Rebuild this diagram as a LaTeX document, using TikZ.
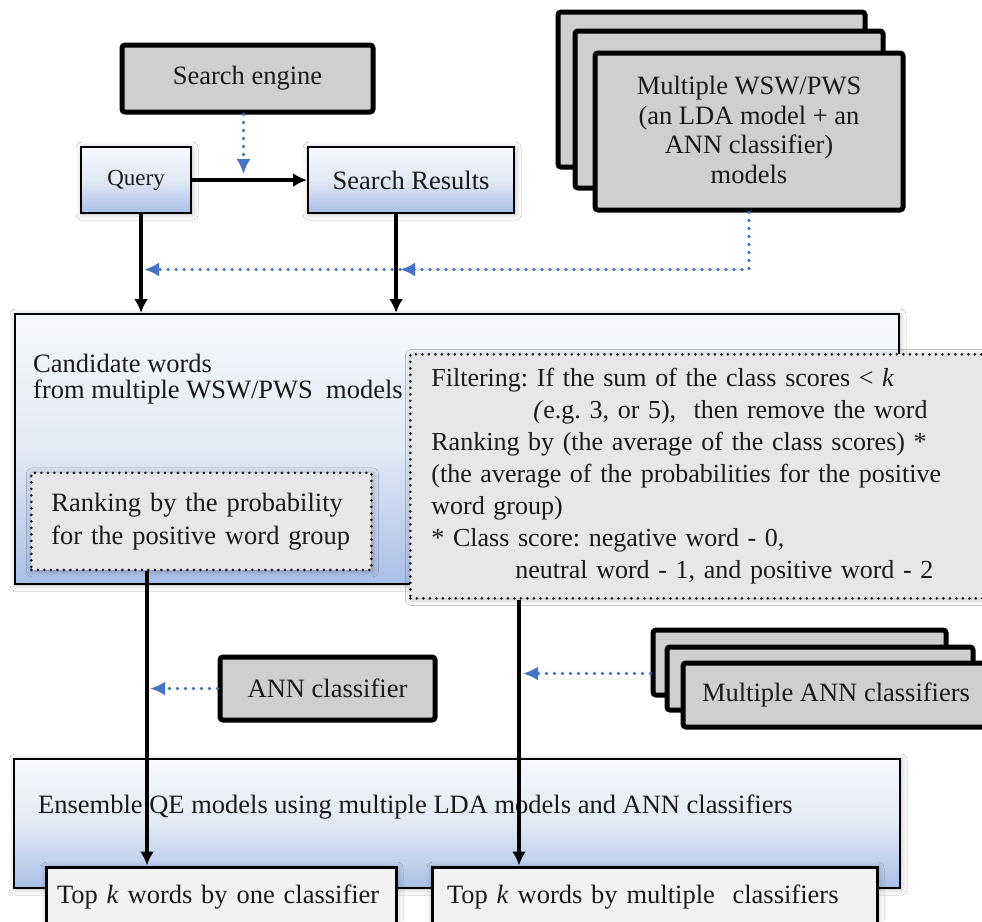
\documentclass[tikz,border=0pt]{standalone}
\usepackage{fontspec}
\setmainfont{Liberation Serif}
\usetikzlibrary{arrows.meta,shadows.blur,calc}

\definecolor{boxgray}{HTML}{D0CECE}
\definecolor{dotgray}{HTML}{E7E7E7}
\definecolor{topkgray}{HTML}{F2F2F2}
\definecolor{linkblue}{HTML}{4472C4}
\definecolor{gradtop}{HTML}{F6F8FC}
\definecolor{gradmid}{HTML}{E2E9F5}
\definecolor{gradbot}{HTML}{A9BFE7}
\definecolor{inktext}{HTML}{1A1A1A}

\begin{document}
\frenchspacing
\begin{tikzpicture}[x=1pt,y=-1pt,
  txt/.style={font=\fontsize{26.5}{30}\selectfont, text=inktext},
  softshadow/.style={blur shadow={shadow xshift=1pt, shadow yshift=-1pt,
      shadow blur radius=6pt, shadow opacity=30}},
  heavybox/.style={txt, draw=black, line width=5pt, fill=boxgray,
      rounded corners=3pt, inner sep=0pt, align=center, anchor=north west},
  gradbox/.style={draw=black, line width=2.2pt, top color=gradtop,
      bottom color=gradbot, middle color=gradmid, softshadow,
      inner sep=0pt, anchor=north west},
  dotbox/.style={draw=black, line width=2.8pt, dash pattern=on 0pt off 6.5pt,
      line cap=round, fill=dotgray, softshadow, anchor=north west},
  topkbox/.style={txt, draw=black, line width=3pt, fill=topkgray, softshadow,
      anchor=north west, align=left},
  flow/.style={line width=3.5pt, -{Latex[length=14pt,width=14pt]}},
  feed/.style={draw=linkblue, line width=3.6pt, dash pattern=on 0pt off 8pt,
      line cap=round, -{Latex[length=15pt,width=14pt]}},
]
\useasboundingbox (0,0) rectangle (982,921);
\fill[white] (0,0) rectangle (982,921);
\clip (0,0) rectangle (982,921);

% --- search stage ---
\node[heavybox, minimum width=251, minimum height=67] (engine) at (119.5,42.5) {Search engine};
\node[gradbox, minimum width=110, minimum height=66,
      font=\fontsize{23}{26}\selectfont, text=inktext] (query) at (80,146) {Query};
\node[gradbox, minimum width=206, minimum height=66, txt] (results) at (307,146) {Search Results};

% --- stacked WSW/PWS models ---
\node[heavybox, minimum width=307, minimum height=155] (wswback) at (555.5,9.5) {};
\node[heavybox, minimum width=308, minimum height=157] (wswmid) at (572.5,28.5) {};
\node[heavybox, minimum width=308, minimum height=157,
      font=\fontsize{26.5}{29.5}\selectfont] (wsw) at (592.5,50.5)
      {\raisebox{3pt}{\parbox[b]{300pt}{\centering Multiple WSW/PWS\\(an LDA model + an\\ANN classifier)\\models}}};

% --- candidate words ---
\node[gradbox, minimum width=884, minimum height=270] (cand) at (14,313) {};
\node[txt, anchor=west, align=left, inner sep=0pt,
      font=\fontsize{26.5}{26}\selectfont] (candtext) at (33,379)
      {Candidate words\\from multiple WSW/PWS\ \ models};
\node[dotbox, minimum width=340, minimum height=97, inner xsep=20pt,
      text width=300pt, align=left, txt, font=\fontsize{26.5}{33}\selectfont] (rank) at (30,471.5)
      {Ranking by the probability\\for the positive word group};
\node[dotbox, minimum width=586, minimum height=244, inner xsep=21pt,
      text width=544pt, align=left, txt, font=\fontsize{26}{32}\selectfont] (filter) at (409,353)
      {Filtering: If the sum of the class scores < \textit{k}\\
       \hspace*{102pt}\textit{(}e.g. 3, or 5),\ \ then remove the word\\
       Ranking by (the average of the class scores) *\\
       (the average of the probabilities for the positive\\
       word group)\\
       {}* Class score: negative word - 0,\\
       \hspace*{84pt}neutral word - 1, and positive word - 2};

% --- classifiers ---
\node[heavybox, minimum width=215, minimum height=63] (ann) at (217.5,654.5) {ANN classifier};
\node[heavybox, minimum width=293, minimum height=65] (annback) at (650.5,627.5) {};
\node[heavybox, minimum width=306, minimum height=63] (annmid) at (664.5,644.5) {};
\node[heavybox, minimum width=306, minimum height=64] (anns) at (680.5,660.5) {Multiple ANN classifiers};

% --- ensemble output ---
\node[gradbox, minimum width=886, minimum height=129] (ens) at (13,758) {};
\node[txt, anchor=west, inner sep=0pt] (enstext) at (38,807)
      {Ensemble QE models using multiple LDA models and ANN classifiers};
\node[topkbox, minimum width=350, minimum height=60, inner xsep=11pt,
      text width=328pt] (topone) at (44.5,865.5) {Top \textit{k} words by one classifier};
\node[topkbox, minimum width=445, minimum height=60, inner xsep=15pt,
      text width=415pt] (topmany) at (430.5,865.5) {Top \textit{k} words by multiple\ \ classifiers};

% --- solid flow arrows ---
\draw[flow] (query.east) -- (results.west);
\coordinate (qout) at ($(query.south)+(5,0)$);
\coordinate (rout) at ($(results.south)+(-15,0)$);
\draw[flow] (qout) -- (qout |- cand.north);
\draw[flow] (rout) -- (rout |- cand.north);
\coordinate (rankout) at ($(rank.south west)+(117,0)$);
\coordinate (filtout) at ($(filter.south west)+(110,0)$);
\draw[flow] (rankout) -- (rankout |- topone.north);
\draw[flow] (filtout) -- (filtout |- topmany.north);

% --- dotted feeds ---
\coordinate (engout) at ($(engine.south)+(-4,0)$);
\draw[feed] (engout) -- ($(engout |- query.east)+(0,-6)$);
\coordinate (feedturn) at ($(wsw.south)+(0,57)$);
\coordinate (feedmid) at ($(rout |- feedturn)+(4,0)$);
\coordinate (feedend) at ($(qout |- feedturn)+(3,0)$);
\draw[feed] (wsw.south) |- (feedmid);
\draw[feed] (feedmid) -- (feedend);
\draw[feed] (ann.west) -- ($(rankout |- ann.west)+(3,0)$);
\coordinate (annsout) at ($(annback.west)+(0,11)$);
\draw[feed] (annsout) -- ($(filtout |- annsout)+(4,0)$);
\end{tikzpicture}
\end{document}
